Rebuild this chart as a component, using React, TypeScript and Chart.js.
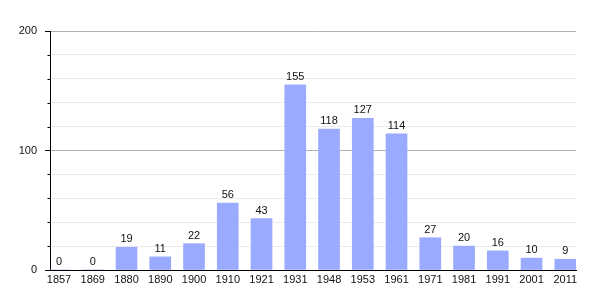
import React, { useEffect, useRef } from "react";
import { Chart, registerables } from "chart.js";

Chart.register(...registerables);

const years = ["1857", "1869", "1880", "1890", "1900", "1910", "1921", "1931", "1948", "1953", "1961", "1971", "1981", "1991", "2001", "2011"];
const population = [0, 0, 19, 11, 22, 56, 43, 155, 118, 127, 114, 27, 20, 16, 10, 9];
const yMin = 0;
const yMax = 200;
const yStep = 20;
const yLabelStep = 100;

const FONT = "'Liberation Sans', Arial, Helvetica, sans-serif";

const valueLabels = {
  id: "valueLabels",
  afterDatasetsDraw(chart: any) {
    const ctx = chart.ctx;
    const meta = chart.getDatasetMeta(0);
    ctx.save();
    ctx.font = `11px ${FONT}`;
    ctx.fillStyle = "#111";
    ctx.textAlign = "center";
    ctx.textBaseline = "alphabetic";
    meta.data.forEach((el: any, i: number) => {
      ctx.fillText(String(population[i]), el.x, el.y - 5);
    });
    ctx.restore();
  },
};

const minorTicks = {
  id: "minorTicks",
  afterDraw(chart: any) {
    const y = chart.scales.y;
    const ctx = chart.ctx;
    ctx.save();
    ctx.strokeStyle = "#000";
    ctx.lineWidth = 1;
    for (let v = yMin; v <= yMax; v += yStep) {
      if (v % yLabelStep === 0) continue;
      const py = Math.round(y.getPixelForValue(v)) + 0.5;
      ctx.beginPath();
      ctx.moveTo(y.right - 2.5, py);
      ctx.lineTo(y.right, py);
      ctx.stroke();
    }
    ctx.restore();
  },
};

export default function App() {
  const ref = useRef<HTMLCanvasElement>(null);
  useEffect(() => {
    document.body.style.margin = "0";
    const chart = new Chart(ref.current as HTMLCanvasElement, {
      type: "bar",
      data: {
        datasets: [
          {
            data: population.map((v, i) => ({ x: i, y: v })),
            backgroundColor: "#99aaff",
            borderWidth: 0,
            barThickness: 21,
          },
        ],
      },
      options: {
        animation: false,
        responsive: false,
        maintainAspectRatio: false,
        layout: { padding: { top: 31, right: 29, bottom: 0, left: 0 } },
        plugins: { legend: { display: false }, tooltip: { enabled: false } },
        scales: {
          x: {
            type: "linear",
            offset: false,
            min: -0.2667,
            max: 15.317,
            afterFit: (s: any) => {
              s.height = 30;
            },
            afterBuildTicks: (s: any) => {
              s.ticks = years.map((_, i) => ({ value: i }));
            },
            grid: { display: false, drawTicks: false, offset: false },
            border: { display: true, color: "#000", width: 1 },
            ticks: {
              autoSkip: false,
              maxRotation: 0,
              padding: 3,
              color: "#111",
              font: { family: FONT, size: 11 },
              callback: (v: any) => years[v] ?? "",
            },
          },
          y: {
            min: yMin,
            max: yMax,
            afterFit: (s: any) => {
              s.width = 50;
            },
            grid: {
              color: (c: any) =>
                c.tick && c.tick.value === 0
                  ? "#000"
                  : c.tick && c.tick.value % yLabelStep === 0
                  ? "#b0b0b0"
                  : "#ebebeb",
              tickColor: (c: any) =>
                c.tick && c.tick.value % yLabelStep === 0 ? "#000" : "rgba(0,0,0,0)",
              tickLength: 5,
            },
            border: { display: true, color: "#000", width: 1 },
            ticks: {
              stepSize: yStep,
              padding: 8,
              color: "#111",
              font: { family: FONT, size: 11 },
              callback: (v: any) => (v % yLabelStep === 0 ? String(v) : ""),
            },
          },
        },
      },
      plugins: [valueLabels, minorTicks],
    });
    return () => chart.destroy();
  }, []);
  return (
    <div style={{ width: 605, height: 300, background: "#fff" }}>
      <canvas ref={ref} width={605} height={300} style={{ display: "block" }} />
    </div>
  );
}
